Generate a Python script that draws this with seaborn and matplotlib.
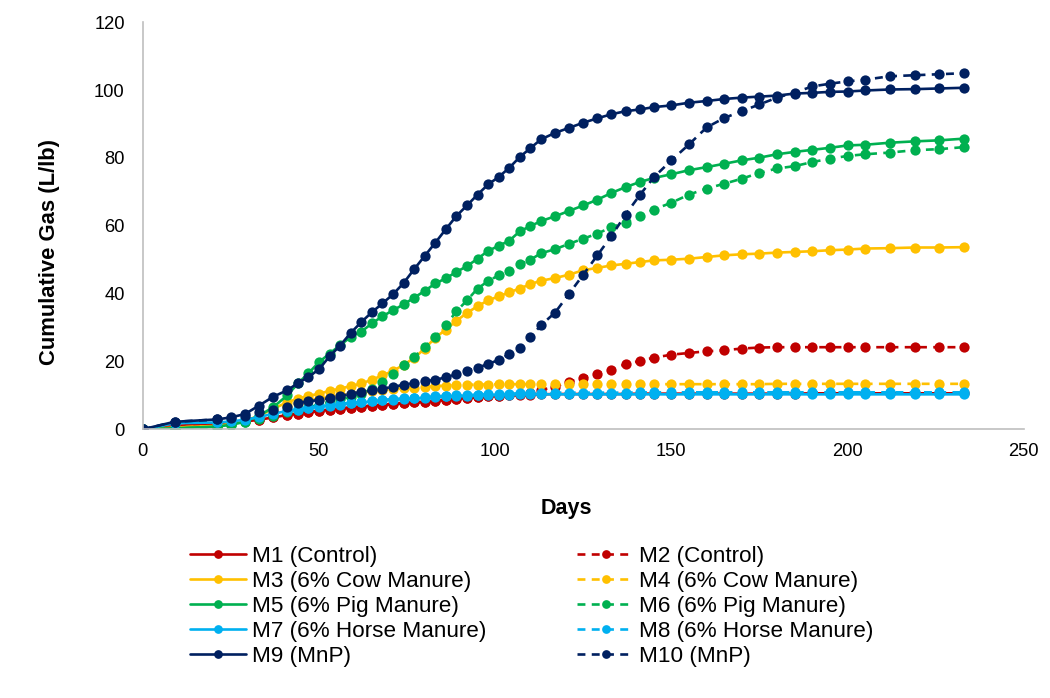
import matplotlib
matplotlib.use("Agg")
import matplotlib.pyplot as plt
from matplotlib.lines import Line2D
import seaborn as sns

# Sampling days
days = [0, 9, 21, 25, 29, 33, 37, 41, 44, 47, 50, 53, 56, 59, 62, 65, 68, 71, 74, 77,
        80, 83, 86, 89, 92, 95, 98, 101, 104, 107, 110, 113, 117, 121, 125, 129, 133, 137,
        141, 145, 150, 155, 160, 165, 170, 175, 180, 185, 190, 195, 200, 205, 212, 219,
        226, 233]

# Cumulative gas (L/lb) per mixture
m1 = [0, 1.0, 1.6, 1.9, 2.3, 2.8, 3.5, 4.2, 4.6, 5.0, 5.4, 5.8, 6.1, 6.4, 6.7, 7.0, 7.2, 7.5, 7.7, 7.9,
      8.1, 8.4, 8.7, 9.0, 9.3, 9.5, 9.7, 9.9, 10.0, 10.1, 10.2, 10.3, 10.4, 10.4, 10.4, 10.4, 10.4, 10.4,
      10.5, 10.5, 10.5, 10.5, 10.5, 10.5, 10.5, 10.5, 10.5, 10.5, 10.6, 10.6, 10.6, 10.6, 10.6, 10.6,
      10.6, 10.6]
m2 = [0, 1.0, 1.6, 1.9, 2.3, 2.8, 3.5, 4.2, 4.6, 5.0, 5.4, 5.8, 6.1, 6.4, 6.7, 7.0, 7.2, 7.5, 7.7, 7.9,
      8.1, 8.4, 8.7, 9.0, 9.3, 9.5, 9.7, 9.9, 10.0, 10.3, 10.8, 11.6, 12.5, 14.0, 15.2, 16.4, 17.6, 19.2,
      20.1, 21.1, 22.0, 22.5, 23.0, 23.3, 23.8, 24.1, 24.2, 24.2, 24.2, 24.2, 24.2, 24.2, 24.2, 24.2,
      24.2, 24.2]
m3 = [0, 0.5, 1.0, 1.6, 2.5, 4.0, 6.0, 8.0, 9.0, 9.8, 10.5, 11.3, 12.0, 12.7, 13.5, 14.6, 15.9, 17.2, 19.0, 21.0,
      23.8, 27.0, 29.4, 32.0, 34.3, 36.3, 38.0, 39.2, 40.4, 41.5, 42.8, 43.8, 44.6, 45.6, 46.9, 47.6, 48.3, 48.8,
      49.3, 49.8, 50.0, 50.3, 50.8, 51.3, 51.6, 51.8, 52.1, 52.3, 52.5, 52.8, 53.0, 53.3, 53.4, 53.6,
      53.6, 53.7]
m4 = [0, 0.5, 1.0, 1.5, 2.3, 3.6, 5.2, 6.8, 7.8, 8.5, 9.0, 9.6, 10.1, 10.5, 10.9, 11.3, 11.6, 11.9, 12.1, 12.3,
      12.5, 12.7, 12.9, 13.0, 13.1, 13.2, 13.2, 13.3, 13.3, 13.3, 13.3, 13.3, 13.3, 13.3, 13.3, 13.3, 13.3, 13.3,
      13.3, 13.3, 13.3, 13.3, 13.3, 13.3, 13.3, 13.3, 13.4, 13.4, 13.4, 13.4, 13.4, 13.4, 13.4, 13.4,
      13.4, 13.4]
m5 = [0, 0.3, 0.8, 1.3, 2.2, 4.0, 6.5, 10.0, 13.5, 16.5, 19.8, 22.3, 24.8, 27.2, 28.8, 31.2, 33.3, 35.1, 36.8, 38.8,
      40.8, 43.0, 44.5, 46.4, 48.1, 50.3, 52.6, 54.1, 55.6, 58.4, 59.9, 61.4, 62.8, 64.4, 66.0, 67.7, 69.7, 71.4,
      72.9, 74.1, 75.2, 76.4, 77.3, 78.3, 79.3, 80.1, 81.1, 81.8, 82.4, 83.0, 83.7, 83.9, 84.5, 84.9,
      85.2, 85.7]
m6 = [0, 0.2, 0.7, 1.2, 2.0, 3.0, 4.0, 5.0, 5.8, 6.5, 7.2, 8.0, 8.8, 9.6, 10.5, 11.8, 13.8, 16.2, 18.9, 21.3,
      24.3, 27.2, 30.7, 34.8, 38.0, 41.5, 43.7, 45.4, 46.7, 48.6, 50.0, 51.9, 53.1, 54.7, 56.2, 57.7, 59.6, 60.9,
      62.9, 64.8, 66.8, 69.2, 71.0, 72.4, 73.9, 75.6, 76.9, 77.6, 78.8, 79.8, 80.6, 81.1, 81.6, 82.3,
      82.6, 83.2]
m7 = [0, 1.8, 2.0, 2.3, 2.8, 3.6, 4.6, 5.4, 5.8, 6.2, 6.6, 7.0, 7.3, 7.6, 7.9, 8.2, 8.5, 8.7, 8.9, 9.1,
      9.3, 9.5, 9.7, 9.8, 9.9, 10.0, 10.1, 10.2, 10.2, 10.3, 10.3, 10.3, 10.3, 10.3, 10.3, 10.3, 10.3, 10.3,
      10.3, 10.3, 10.3, 10.3, 10.3, 10.3, 10.3, 10.3, 10.3, 10.3, 10.3, 10.3, 10.3, 10.3, 10.3, 10.3,
      10.3, 10.3]
m8 = [0, 1.9, 2.1, 2.4, 2.9, 3.8, 4.8, 5.6, 6.0, 6.4, 6.8, 7.2, 7.5, 7.8, 8.1, 8.4, 8.7, 8.9, 9.1, 9.3,
      9.5, 9.7, 9.9, 10.0, 10.1, 10.2, 10.3, 10.4, 10.5, 10.6, 10.7, 10.7, 10.8, 10.8, 10.8, 10.8, 10.8, 10.8,
      10.9, 10.9, 10.9, 10.9, 10.9, 10.9, 10.9, 10.9, 10.9, 10.9, 10.9, 10.9, 10.9, 10.9, 10.9, 10.9,
      10.9, 10.9]
m9 = [0, 2.2, 2.9, 3.5, 4.5, 7.0, 9.6, 11.5, 13.6, 15.4, 17.7, 21.5, 24.7, 28.4, 31.6, 34.5, 37.1, 39.8, 43.1, 47.2,
      51.1, 55.0, 59.0, 62.9, 66.0, 69.2, 72.2, 74.4, 77.1, 80.3, 82.9, 85.5, 87.4, 88.9, 90.4, 91.7, 92.9, 93.8,
      94.3, 95.0, 95.5, 96.3, 96.8, 97.4, 97.8, 98.1, 98.4, 99.0, 99.2, 99.5, 99.6, 99.9, 100.2, 100.3,
      100.5, 100.7]
m10 = [0, 2.2, 2.9, 3.3, 4.0, 5.0, 5.7, 6.6, 7.6, 8.3, 8.6, 9.2, 9.7, 10.5, 11.0, 11.5, 12.0, 12.5, 13.1, 13.6,
       14.2, 14.6, 15.3, 16.2, 17.3, 18.1, 19.3, 20.4, 22.2, 24.1, 27.1, 30.7, 34.4, 40.0, 45.6, 51.3, 57.0, 63.3,
       69.0, 74.3, 79.3, 84.0, 89.0, 91.8, 93.8, 95.8, 97.8, 99.3, 101.1, 101.9, 102.6, 103.1, 104.1, 104.4,
       104.7, 105.0]

labels = ["M1 (Control)", "M2 (Control)", "M3 (6% Cow Manure)", "M4 (6% Cow Manure)",
          "M5 (6% Pig Manure)", "M6 (6% Pig Manure)", "M7 (6% Horse Manure)", "M8 (6% Horse Manure)",
          "M9 (MnP)", "M10 (MnP)"]
series = [m1, m2, m3, m4, m5, m6, m7, m8, m9, m10]
colors = ["#C00000", "#C00000", "#FFC000", "#FFC000", "#00B050", "#00B050",
          "#00B0F0", "#00B0F0", "#002060", "#002060"]
dashed = [False, True] * 5

x_ticks = [0, 50, 100, 150, 200, 250]
y_ticks = [0, 20, 40, 60, 80, 100, 120]

sns.set_theme(style="white")
plt.rcParams["font.family"] = ["Liberation Sans", "DejaVu Sans"]
plt.rcParams["text.color"] = "black"
plt.rcParams["axes.labelcolor"] = "black"

fig = plt.figure(figsize=(10.5, 6.98), dpi=100)
ax = fig.add_axes([0.136, 0.385, 0.839, 0.583])

LW = 1.9
MS = 7.4
DASH = (0, (3.0, 2.4))

handles = []
for vals, lab, col, dsh in zip(series, labels, colors, dashed):
    ls = DASH if dsh else "-"
    sns.lineplot(x=days, y=vals, ax=ax, color=col, linewidth=LW, linestyle=ls,
                 marker="o", markersize=MS, markeredgewidth=0, markerfacecolor=col,
                 legend=False, sort=False)
    handles.append(Line2D([0], [0], color=col, linewidth=LW, linestyle=ls, marker="o",
                          markersize=MS * 0.85, markeredgewidth=0, label=lab))

ax.set_xlim(0, 250)
ax.set_ylim(0, 120)
ax.set_xticks(x_ticks)
ax.set_yticks(y_ticks)
ax.tick_params(axis="both", direction="in", length=6, width=1, color="#BFBFBF",
               labelsize=13.2, labelcolor="black")
ax.tick_params(axis="x", pad=10)
ax.tick_params(axis="y", pad=13)
for side in ["top", "right"]:
    ax.spines[side].set_visible(False)
for side in ["left", "bottom"]:
    ax.spines[side].set_color("#BFBFBF")
    ax.spines[side].set_linewidth(1.2)

ax.set_xlabel("Days", fontsize=15.5, fontweight="bold", color="black")
ax.set_ylabel("Cumulative Gas (L/lb)", fontsize=15.8, fontweight="bold", color="black")
ax.xaxis.set_label_coords(0.481, -0.168)
ax.yaxis.set_label_coords(-0.094, 0.435)

order = [0, 2, 4, 6, 8, 1, 3, 5, 7, 9]
leg = fig.legend([handles[i] for i in order], [labels[i] for i in order],
                 ncol=2, loc="upper left", bbox_to_anchor=(0.181, 0.218),
                 frameon=False, fontsize=16.2, handlelength=2.5, handletextpad=0.25,
                 columnspacing=4.05, labelspacing=0.18, numpoints=1, borderpad=0,
                 borderaxespad=0, labelcolor="black")

fig.savefig("out.png", dpi=100)
